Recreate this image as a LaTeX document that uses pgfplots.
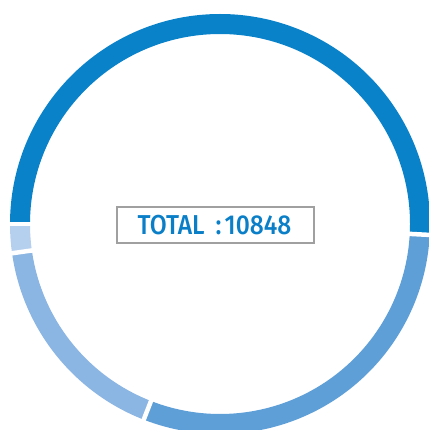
\documentclass[border=0pt]{standalone}
\usepackage{fontspec}
\usepackage{pgfplots}
\usepackage{pgfplotstable}
\pgfplotsset{compat=1.18}
\usetikzlibrary{calc}
\newfontfamily\lbl{Fira Sans Medium}[FakeStretch=0.9]
\definecolor{seg0}{HTML}{0A82CA}
\definecolor{seg1}{HTML}{5F9FD8}
\definecolor{seg2}{HTML}{8BB5E3}
\definecolor{seg3}{HTML}{B5CFEF}
\definecolor{txtblue}{HTML}{0A7FC8}
\definecolor{boxgray}{HTML}{A0A0A0}

% slices, clockwise from 180 deg
\pgfplotstableread{
label value
A 5514
B 3264
C 1829
D 241
}\datatable

\xdef\total{0}
\pgfplotstableforeachcolumnelement{value}\of\datatable\as\v{%
 \pgfmathsetmacro\t{\total+\v}\xdef\total{\t}}
\xdef\cur{180}
\pgfplotstableforeachcolumnelement{value}\of\datatable\as\v{%
 \pgfmathsetmacro\nxt{\cur-360*(\v/\total)}%
 \expandafter\xdef\csname segS\pgfplotstablerow\endcsname{\cur}%
 \expandafter\xdef\csname segE\pgfplotstablerow\endcsname{\nxt}%
 \xdef\cur{\nxt}}

% 1 px = 8cm/429
\def\Ro{3.9161cm}
\def\Ri{3.5431cm}
\def\Rgo{4.2cm}
\def\Rgi{3.3cm}

\begin{document}
\begin{tikzpicture}
\useasboundingbox (0,0) rectangle (8cm,8.0187cm);
\begin{axis}[
 scale only axis, width=8cm, height=8.0187cm,
 xmin=-220, xmax=209, ymin=-206, ymax=224,
 hide axis, clip=true,
]
\coordinate (O) at (axis cs:0,0);
\pgfplotsinvokeforeach{0,...,3}{
 \fill[seg#1] ($(O)+({\csname segS#1\endcsname}:\Ro)$)
 arc[start angle={\csname segS#1\endcsname}, end angle={\csname segE#1\endcsname}, radius=\Ro]
 -- ($(O)+({\csname segE#1\endcsname}:\Ri)$)
 arc[start angle={\csname segE#1\endcsname}, end angle={\csname segS#1\endcsname}, radius=\Ri]
 -- cycle;
}
\pgfplotsinvokeforeach{0,...,3}{
 \draw[white, line width=0.084cm]
 ($(O)+({\csname segS#1\endcsname}:\Rgi)$) -- ($(O)+({\csname segS#1\endcsname}:\Rgo)$);
}
\draw[boxgray, line width=0.55pt] (axis cs:-103,17) rectangle (axis cs:94,-19);
\node[font=\lbl\fontsize{14.5pt}{16pt}\selectfont, text=txtblue, inner sep=0pt]
 at (axis cs:-5.5,-1.5) {TOTAL\hspace{0.4em}:\hspace{0.12em}10848};
\end{axis}
\end{tikzpicture}
\end{document}
